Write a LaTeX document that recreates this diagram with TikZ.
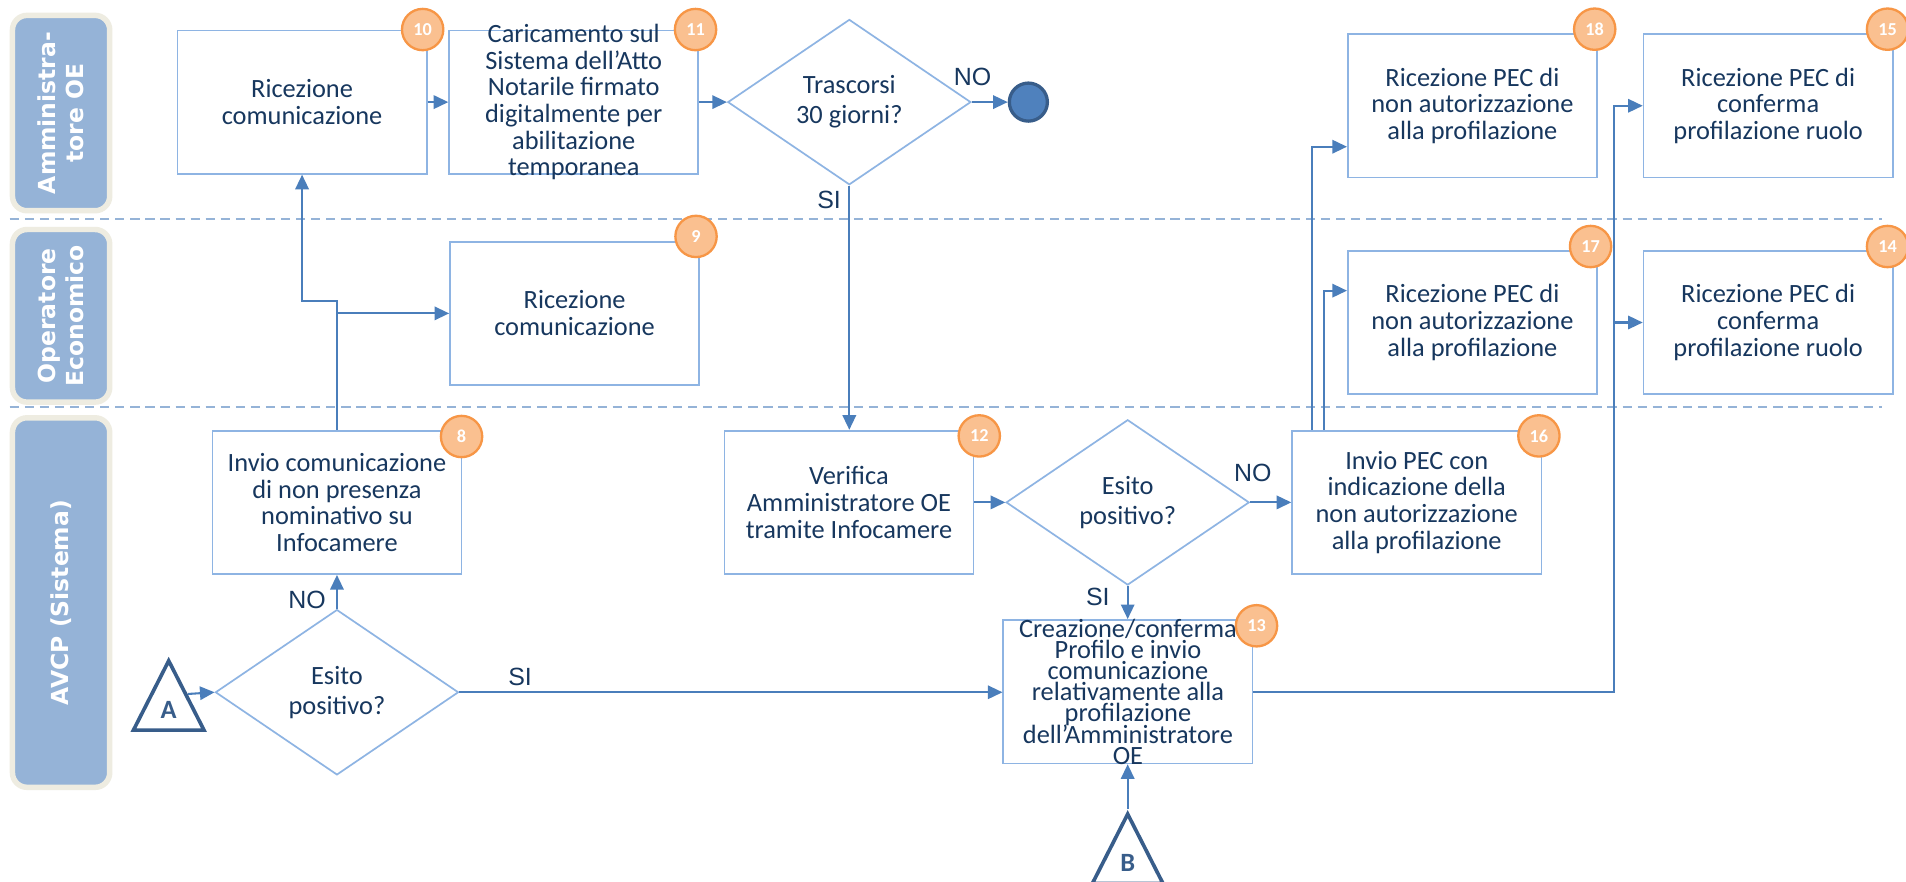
\documentclass[tikz,border=0pt]{standalone}
\usepackage{fontspec}
\setmainfont{Carlito}
\newfontfamily\lanefont{DejaVu Sans}
\newfontfamily\nofont{Liberation Sans}
\usetikzlibrary{shapes.geometric,arrows.meta}
\definecolor{txt}{HTML}{17375E}
\definecolor{bord}{HTML}{8EB4E3}
\definecolor{flow}{HTML}{4A7EBB}
\definecolor{lanefill}{HTML}{95B3D7}
\definecolor{laneedge}{HTML}{EEECE1}
\definecolor{badgefill}{HTML}{FAC090}
\definecolor{badgeedge}{HTML}{F79646}
\definecolor{endfill}{HTML}{4F81BD}
\definecolor{enddark}{HTML}{385D8A}
\newcommand\tightlines{\fontsize{21.7pt}{17.4pt}\selectfont\lineskiplimit=-30pt\relax}
\begin{document}
\begin{tikzpicture}[x=1pt, y=-1pt, font=\fontsize{21.7pt}{22pt}\selectfont, text=txt,
  t/.style={draw=bord, line width=1.4pt, minimum width=205pt, minimum height=118pt, inner sep=0pt, align=center},
  tx/.style={align=center, inner sep=0pt},
  q/.style={diamond, draw=bord, line width=1.4pt, minimum width=200pt, minimum height=136pt, inner sep=0pt, align=center, font=\fontsize{21.7pt}{24.6pt}\selectfont},
  num/.style={circle, draw=badgeedge, line width=1.9pt, fill=badgefill, minimum size=34pt, inner sep=0pt, text=white, font=\fontsize{15pt}{15pt}\selectfont\bfseries},
  lane/.style={draw=laneedge, line width=4.5pt, fill=lanefill, rounded corners=12pt, rotate=90, minimum height=80pt, inner sep=0pt, align=center, text=white, font=\fontsize{19.3pt}{23pt}\lanefont\bfseries},
  con/.style={isosceles triangle, isosceles triangle stretches, shape border rotate=90, draw=enddark, line width=3pt, fill=white, minimum width=58pt, minimum height=57pt, inner sep=0pt, text=enddark, font=\fontsize{21.7pt}{22pt}\selectfont\bfseries},
  yn/.style={inner sep=0pt, font=\fontsize{20.5pt}{22pt}\nofont},
  a/.style={-{Triangle[length=12pt, width=11pt]}, line width=1.7pt, draw=flow},
  sep/.style={draw=lanefill, line width=1.4pt, dash pattern=on 7.6pt off 4.8pt}]
  \path[use as bounding box, fill=white] (0,0) rectangle (1568,725);
  \draw[sep] (8,180.2) -- (1548,180.2);
  \draw[sep] (8,334.6) -- (1548,334.6);
  \node[lane, minimum width=160.7pt] (l1) at (50.25,93) {Amministra-\\tore OE};
  \node[lane, minimum width=142pt] (l2) at (50.25,259.8) {Operatore\\Economico};
  \node[lane, minimum width=304pt] (l3) at (50.25,495.7) {AVCP (Sistema)};
  \node[t] (b10) at (248.5,84) {Ricezione\\comunicazione};
  \node[t] (b11) at (472,84) {};
  \node[tx] (t11) at (b11) {Caricamento sul\\Sistema dell’Atto\\Notarile firmato\\digitalmente per\\abilitazione\\temporanea};
  \node[q] (q1) at (698.7,84) {Trascorsi\\30 giorni?};
  \node[circle, draw=enddark, line width=2.7pt, fill=endfill, minimum size=31.3pt] (fine) at (846,84) {};
  \node[t] (b18) at (1211.3,87) {Ricezione PEC di\\non autorizzazione\\alla profilazione};
  \node[t] (b15) at (1454.6,87) {Ricezione PEC di\\conferma\\profilazione ruolo};
  \node[t] (b9) at (472.7,257.8) {Ricezione\\comunicazione};
  \node[t] (b17) at (1211.3,265.3) {Ricezione PEC di\\non autorizzazione\\alla profilazione};
  \node[t] (b14) at (1454.6,265.3) {Ricezione PEC di\\conferma\\profilazione ruolo};
  \node[t] (b8) at (277.2,413.3) {Invio comunicazione\\di non presenza\\nominativo su\\Infocamere};
  \node[t] (b12) at (698.4,413.3) {Verifica\\Amministratore OE\\tramite Infocamere};
  \node[q] (q2) at (927.7,413.3) {Esito\\positivo?};
  \node[t] (b16) at (1165.5,413.3) {Invio PEC con\\indicazione della\\non autorizzazione\\alla profilazione};
  \node[t] (b13) at (927.9,569) {};
  \node[tx, font=\tightlines] (t13) at (b13) {Creazione/conferma\\Profilo e invio\\comunicazione\\relativamente alla\\profilazione\\dell’Amministratore\\OE};
  \node[q] (q3) at (277.2,569.5) {Esito\\positivo?};
  \node[con, anchor=apex] (pa) at (138.8,539.7) {A};
  \node[con, anchor=apex] (pb) at (927.7,665.8) {B};
  \draw[a] (b10.east) -- (b11.west);
  \draw[a] (b11.east) -- (q1.west);
  \draw[a] (q1.east) -- (fine.west);
  \draw[a] (q1.south) -- (q1.south |- b12.north);
  \draw[a] (b12.east) -- (q2.west);
  \draw[a] (q2.east) -- (b16.west);
  \draw[a] (q2.south) -- (q2.south |- b13.north);
  \draw[a] (pb.apex) -- (pb.apex |- b13.south);
  \draw[a] (pa.right side) -- (q3.west);
  \draw[a] (q3.north) -- (b8.south);
  \draw[a] (q3.east) -- (q3.east -| b13.west);
  \draw[a] (b8.north) -- ++(0,-105.6) -| (b10.south);
  \draw[a] (b8.north |- b9.west) -- (b9.west);
  \draw[a] (b13.east) -| ([xshift=-23.4pt]b15.west) -- (b15.west);
  \draw[a] ([xshift=-23.4pt]b14.west) -- (b14.west);
  \draw[a] ([xshift=17pt]b16.north west) |- ([yshift=-33.7pt]b18.west);
  \draw[a] ([xshift=26.6pt]b16.north west) |- ([yshift=26.2pt]b17.west);
  \node[yn] (no1) at (800,63) {NO};
  \node[yn] (si1) at (682,164.5) {SI};
  \node[yn] (no2) at (1030.6,389.4) {NO};
  \node[yn] (si2) at (903.1,490.8) {SI};
  \node[yn] (no3) at (252.6,493.6) {NO};
  \node[yn] (si3) at (427.8,556.7) {SI};
  \node[num] (n10) at ([shift={(-4,0)}]b10.north east) {10};
  \node[num] (n11) at ([shift={(-3,0)}]b11.north east) {11};
  \node[num] (n9) at ([shift={(-3.3,-3.6)}]b9.north east) {9};
  \node[num] (n18) at ([shift={(-2.6,-3.3)}]b18.north east) {18};
  \node[num] (n15) at ([shift={(-5,-3.3)}]b15.north east) {15};
  \node[num] (n17) at ([shift={(-6,-2.8)}]b17.north east) {17};
  \node[num] (n14) at ([shift={(-5,-2.8)}]b14.north east) {14};
  \node[num] (n8) at ([shift={(-0.7,5.5)}]b8.north east) {8};
  \node[num] (n12) at ([shift={(4,5)}]b12.north east) {12};
  \node[num] (n16) at ([shift={(-2.7,5)}]b16.north east) {16};
  \node[num] (n13) at ([shift={(2.6,5.5)}]b13.north east) {13};
\end{tikzpicture}
\end{document}
